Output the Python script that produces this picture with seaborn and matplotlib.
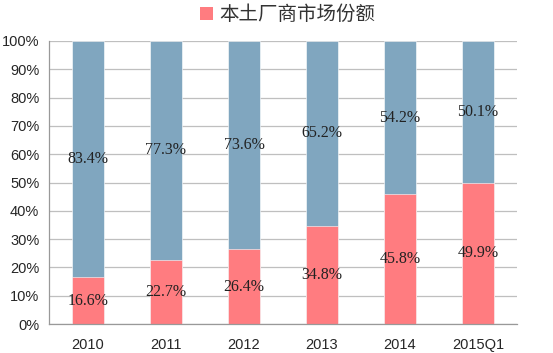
import pandas as pd
import numpy as np
import matplotlib.pyplot as plt
import seaborn as sns
from matplotlib.patches import Patch

years = ['2010', '2011', '2012', '2013', '2014', '2015Q1']
local_share = [16.6, 22.7, 26.4, 34.8, 45.8, 49.9]
foreign_share = [83.4, 77.3, 73.6, 65.2, 54.2, 50.1]

df = pd.DataFrame({'year': years, 'local': local_share, 'foreign': foreign_share})
df['total'] = df['local'] + df['foreign']

sns.set_style('white')
plt.rcParams['font.family'] = ['Liberation Sans', 'DejaVu Sans']

blue = '#80A6BF'
pink = '#FF7C80'

fig = plt.figure(figsize=(5.53, 3.53), dpi=100)
ax = fig.add_axes([49 / 553, 29 / 353, 468 / 553, 283 / 353])

sns.barplot(data=df, x='year', y='total', color=blue, width=0.4, saturation=1,
            edgecolor='white', linewidth=0.4, ax=ax)
sns.barplot(data=df, x='year', y='local', color=pink, width=0.4, saturation=1,
            edgecolor='white', linewidth=0.4, ax=ax)

ax.set_xlim(-0.5, 5.5)
ax.set_ylim(0, 100)
ax.set_yticks(np.arange(0, 101, 10))
ax.set_yticklabels([f'{v}%' for v in range(0, 101, 10)], fontsize=10.5)
ax.set_xticks(range(len(years)))
ax.set_xticklabels(years, fontsize=10.5)
ax.set_xticks(np.arange(-0.5, 6, 1), minor=True)
ax.tick_params(axis='x', which='major', length=0, pad=10)
ax.tick_params(axis='x', which='minor', length=4, color='#999999', direction='out')
ax.tick_params(axis='y', length=3, color='#999999', direction='out', pad=4)
ax.set_xlabel('')
ax.set_ylabel('')
ax.yaxis.grid(True, color='#bfbfbf', linewidth=0.9)
ax.set_axisbelow(True)
for s in ['top', 'right']:
    ax.spines[s].set_visible(False)
for s in ['left', 'bottom']:
    ax.spines[s].set_color('#999999')
    ax.spines[s].set_linewidth(0.9)

for i, (lo, fo) in enumerate(zip(local_share, foreign_share)):
    ax.text(i, lo / 2, f'{lo}%', ha='center', va='center', fontsize=11.5,
            family='Liberation Serif', color='#222222')
    ax.text(i, lo + fo / 2, f'{fo}%', ha='center', va='center', fontsize=11.5,
            family='Liberation Serif', color='#222222')

handles = [Patch(facecolor=pink, edgecolor='none')]
fig.legend(handles, ['本土厂商市场份额'], loc='center', bbox_to_anchor=(0.52, 0.958),
           frameon=False, handlelength=0.7, handleheight=0.7, handletextpad=0.3,
           labelcolor='#333333', prop={'family': 'Noto Sans CJK SC', 'size': 14})

fig.savefig('out.png', dpi=100)
